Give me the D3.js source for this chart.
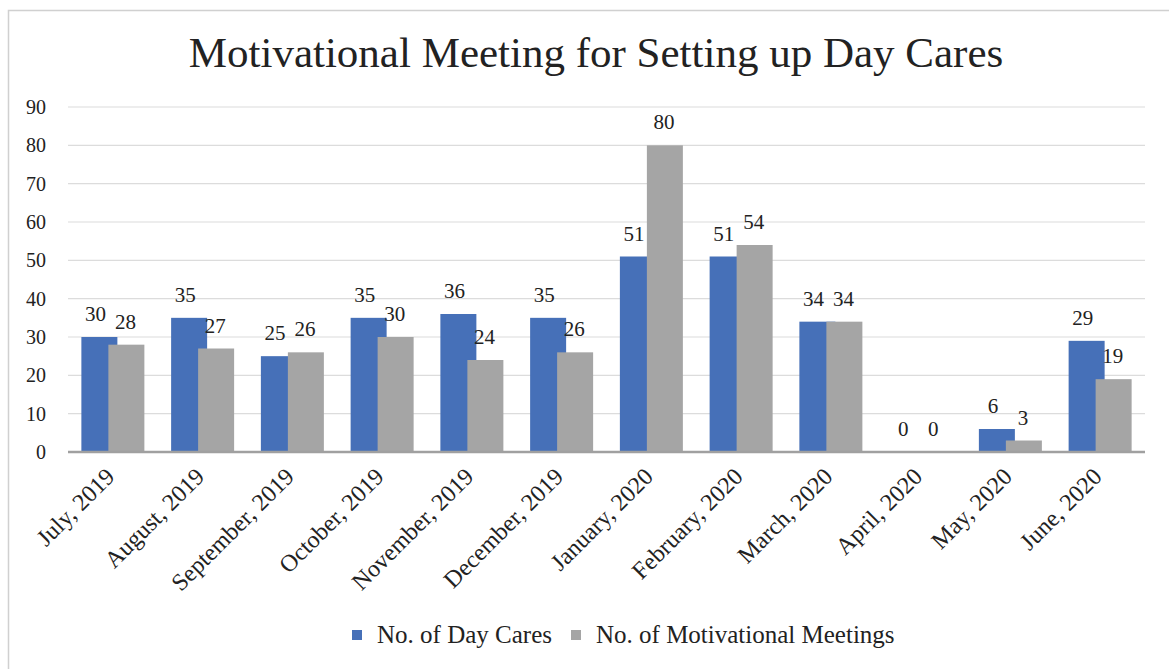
<!DOCTYPE html>
<html>
<head>
<meta charset="utf-8">
<script src="https://cdn.jsdelivr.net/npm/d3@7"></script>
<style>
  body { margin: 0; background: #fff; }
</style>
</head>
<body>
<div id="chart"></div>
<script>
const months = ["July, 2019", "August, 2019", "September, 2019", "October, 2019", "November, 2019",
    "December, 2019", "January, 2020", "February, 2020", "March, 2020", "April, 2020", "May, 2020", "June, 2020"];
const dayCares = [30, 35, 25, 35, 36, 35, 51, 51, 34, 0, 6, 29];
const meetings = [28, 27, 26, 30, 24, 26, 80, 54, 34, 0, 3, 19];
const seriesNames = ["No. of Day Cares", "No. of Motivational Meetings"];
const seriesColors = ["#4670b8", "#a5a5a5"];
const yTicks = [0, 10, 20, 30, 40, 50, 60, 70, 80, 90];

const width = 1169, height = 669;
const plot = { left: 68, right: 1145, top: 107, bottom: 452 };
const serif = "Liberation Serif";

const svg = d3.select("#chart").append("svg")
    .attr("width", width)
    .attr("height", height)
    .attr("font-family", serif)
    .attr("fill", "#222");

// chart frame (only the top and left edges are visible in the crop)
svg.append("rect")
    .attr("x", 8.5).attr("y", 10.5)
    .attr("width", width + 20).attr("height", height + 20)
    .attr("fill", "none")
    .attr("stroke", "#d0d0d0")
    .attr("stroke-width", 1.5);

svg.append("text")
    .attr("x", 596).attr("y", 67)
    .attr("text-anchor", "middle")
    .attr("font-size", 43)
    .text("Motivational Meeting for Setting up Day Cares");

const x = d3.scaleBand().domain(months).range([plot.left, plot.right]);
const y = d3.scaleLinear().domain([0, 90]).range([plot.bottom, plot.top]);

// gridlines
svg.append("g")
    .selectAll("line")
    .data(yTicks.slice(1))
    .join("line")
    .attr("x1", plot.left).attr("x2", plot.right)
    .attr("y1", d => y(d)).attr("y2", d => y(d))
    .attr("stroke", "#dcdcdc")
    .attr("stroke-width", 1.2);

// y tick labels
svg.append("g")
    .selectAll("text")
    .data(yTicks)
    .join("text")
    .attr("x", 46)
    .attr("y", d => y(d) + 7)
    .attr("text-anchor", "end")
    .attr("font-size", 20)
    .text(d => d);

// bars: each bar 36px wide, second one shifted by 27 so they overlap a bit
const barW = 36, shift = 27;
const groupW = barW + shift;
const series = [dayCares, meetings];
const barX = (i, si) => x(months[i]) + x.bandwidth() / 2 - groupW / 2 + si * shift;

series.forEach((vals, si) => {
    svg.append("g")
        .selectAll("rect")
        .data(vals)
        .join("rect")
        .attr("x", (d, i) => barX(i, si))
        .attr("y", d => y(d))
        .attr("width", barW)
        .attr("height", d => y(0) - y(d))
        .attr("fill", seriesColors[si]);
});

// value labels
series.forEach((vals, si) => {
    svg.append("g")
        .selectAll("text")
        .data(vals)
        .join("text")
        .attr("x", (d, i) => barX(i, si) + barW / 2 + (si === 0 ? -4 : -1))
        .attr("y", d => y(d) - 16)
        .attr("text-anchor", "middle")
        .attr("font-size", 21)
        .text(d => d);
});

// axis line
svg.append("line")
    .attr("x1", plot.left).attr("x2", plot.right)
    .attr("y1", y(0)).attr("y2", y(0))
    .attr("stroke", "#a0a0a0")
    .attr("stroke-width", 2.5);

// x labels rotated
svg.append("g")
    .selectAll("text")
    .data(months)
    .join("text")
    .attr("transform", d => `translate(${x(d) + x.bandwidth() / 2 + 3}, ${plot.bottom + 26}) rotate(-45)`)
    .attr("text-anchor", "end")
    .attr("font-size", 24)
    .text(d => d);

// legend
const legendX = [352, 571];
const legend = svg.append("g");
seriesNames.forEach((name, i) => {
    legend.append("rect")
        .attr("x", legendX[i]).attr("y", 630)
        .attr("width", 10).attr("height", 10)
        .attr("fill", seriesColors[i]);
    legend.append("text")
        .attr("x", legendX[i] + 25).attr("y", 643)
        .attr("font-size", 25)
        .text(name);
});
</script>
</body>
</html>
